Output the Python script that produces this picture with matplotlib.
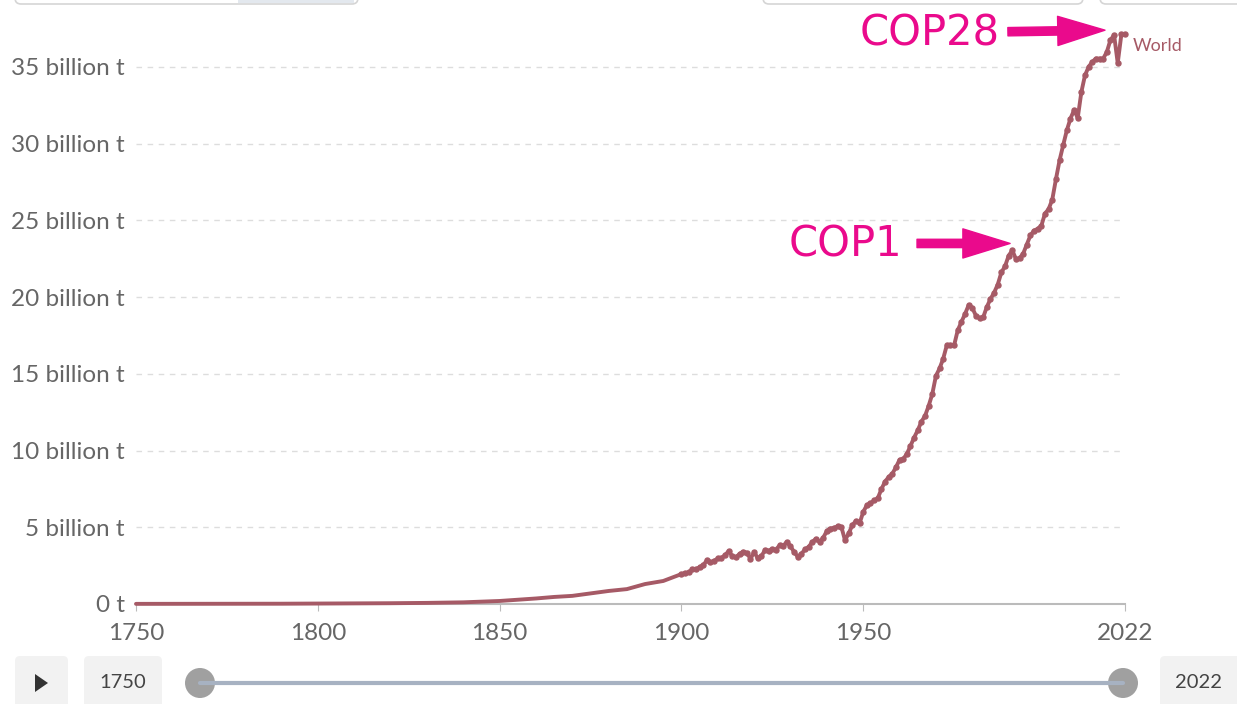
import numpy as np
import matplotlib
matplotlib.use("Agg")
import matplotlib.pyplot as plt
from matplotlib.patches import FancyBboxPatch, Circle, Rectangle, Polygon

# annual CO2 emissions, World (billion t)
early_years = [1750, 1760, 1770, 1780, 1790, 1800, 1810, 1820, 1830, 1840,
               1850, 1855, 1860, 1865, 1870, 1875, 1880, 1885, 1890, 1895]
early_vals = [0.009, 0.010, 0.013, 0.015, 0.019, 0.028, 0.036, 0.051, 0.072, 0.109,
              0.197, 0.28, 0.36, 0.46, 0.53, 0.69, 0.85, 0.97, 1.30, 1.50]
late_years = list(range(1900, 2023))
late_vals = [1.95, 2.01, 2.06, 2.26, 2.26, 2.40, 2.53, 2.84, 2.71, 2.81,
             2.97, 3.00, 3.18, 3.45, 3.11, 3.04, 3.27, 3.41, 3.34, 2.94,
             3.39, 2.98, 3.12, 3.52, 3.48, 3.56, 3.55, 3.82, 3.79, 4.05,
             3.76, 3.39, 3.08, 3.27, 3.56, 3.72, 4.04, 4.25, 4.04, 4.32,
             4.76, 4.92, 4.96, 5.07, 5.02, 4.15, 4.60, 5.13, 5.42, 5.25,
             6.00, 6.44, 6.56, 6.75, 6.89, 7.48, 7.98, 8.27, 8.49, 8.91,
             9.40, 9.45, 9.78, 10.30, 10.85, 11.32, 11.88, 12.26, 12.91, 13.69,
             14.87, 15.35, 15.99, 16.87, 16.87, 16.86, 17.84, 18.38, 18.90, 19.48,
             19.30, 18.79, 18.62, 18.69, 19.36, 19.88, 20.29, 20.82, 21.61, 22.01,
             22.70, 23.05, 22.49, 22.53, 22.84, 23.43, 24.03, 24.34, 24.45, 24.66,
             25.45, 25.74, 26.36, 27.68, 28.91, 29.91, 30.87, 31.64, 32.19, 31.68,
             33.37, 34.46, 35.01, 35.33, 35.55, 35.55, 35.55, 35.98, 36.76, 37.08,
             35.26, 37.12, 37.15]
years = np.array(early_years + late_years)
vals = np.array(early_vals + late_vals)

yticks = [0, 5, 10, 15, 20, 25, 30, 35]
ylabels = ["0 t"] + [f"{v} billion t" for v in yticks[1:]]
xticks = [1750, 1800, 1850, 1900, 1950, 2022]

line_col = "#a65a66"
pink = "#ea0a8c"
W, H = 1237, 704

fig = plt.figure(figsize=(W / 100, H / 100), dpi=100)
ax = fig.add_axes([136 / W, (H - 604) / H, (1125 - 136) / W, (604 - 20) / H])
ax.set_xlim(1750, 2022)
ax.set_ylim(0, 584 / 15.343)

# line only for the sparse early part, markers where the reference shows yearly dots
ax.plot(years, vals, color=line_col, lw=2.8, clip_on=False, zorder=3,
        solid_joinstyle="round", solid_capstyle="round")
ax.plot(late_years, late_vals, color=line_col, lw=0, marker="o", ms=3.6,
        clip_on=False, zorder=3)

ax.set_yticks(yticks)
ax.set_yticklabels(ylabels)
ax.set_xticks(xticks)
ax.set_xticklabels([str(x) for x in xticks])
for lab in ax.get_yticklabels() + ax.get_xticklabels():
    lab.set_family("Lato")
    lab.set_fontsize(17.5)
    lab.set_color("#666666")
ax.tick_params(axis="y", length=0, pad=8)
ax.tick_params(axis="x", length=5, color="#bbbbbb", pad=9)
ax.grid(axis="y", color="#dddddd", linestyle=(0, (4, 4)), lw=1)
ax.set_axisbelow(True)
for s in ["top", "right", "left"]:
    ax.spines[s].set_visible(False)
ax.spines["bottom"].set_color("#bbbbbb")
ax.spines["bottom"].set_linewidth(1.5)

ax.text(2024.2, 36.4, "World", color=line_col, fontsize=13, family="Lato",
        ha="left", va="center", clip_on=False)

# COP annotations
ax.text(1945.0, 23.4, "COP1", color=pink, fontsize=30, ha="center", va="center")
ax.annotate("", xy=(1990.4, 23.5), xytext=(1964.8, 23.5),
            arrowprops=dict(color=pink, width=6, headwidth=21, headlength=34, shrink=0))
ax.text(1968.4, 37.2, "COP28", color=pink, fontsize=30, ha="center", va="center")
ax.annotate("", xy=(2016.5, 37.4), xytext=(1989.8, 37.3),
            arrowprops=dict(color=pink, width=6, headwidth=21, headlength=34, shrink=0),
            annotation_clip=False)

# UI bits around the chart (pixel coords)
ui = fig.add_axes([0, 0, 1, 1], zorder=-1)
ui.set_xlim(0, W)
ui.set_ylim(H, 0)
ui.axis("off")
for x0, x1 in [(15, 358), (763, 1083), (1100, 1260)]:
    ui.add_patch(FancyBboxPatch((x0, -30), x1 - x0, 34, boxstyle="round,pad=0,rounding_size=6",
                                fc="white", ec="#d5d5d5", lw=1.2))
ui.add_patch(Rectangle((238, -5), 116, 8, fc="#e3e8ee", ec="none"))
for x0, x1 in [(15, 68), (84, 162), (1160, 1260)]:
    ui.add_patch(FancyBboxPatch((x0, 656), x1 - x0, 60, boxstyle="round,pad=0,rounding_size=5",
                                fc="#f2f2f2", ec="none"))
ui.add_patch(Polygon([(35, 674), (35, 692), (48, 683)], closed=True, fc="#333333", ec="none"))
ui.text(123, 683, "1750", fontsize=14.5, family="Lato", color="#444444", ha="center", va="center")
ui.text(1198, 683, "2022", fontsize=14.5, family="Lato", color="#444444", ha="center", va="center")
ui.plot([200, 1123], [683, 683], color="#a7b2c2", lw=3, solid_capstyle="round")
for cx in [200, 1123]:
    ui.add_patch(Circle((cx, 683), 15, fc="#a0a0a0", ec="none"))

fig.savefig("out.png", dpi=100)
